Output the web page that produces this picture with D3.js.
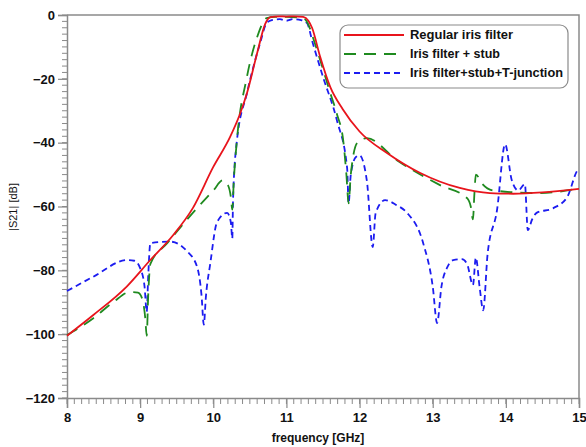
<!DOCTYPE html>
<html>
<head>
<meta charset="utf-8">
<script src="https://cdnjs.cloudflare.com/ajax/libs/d3/7.8.5/d3.min.js"></script>
<style>
  body { margin: 0; background: #fff; }
  svg { display: block; font-family: 'Liberation Sans', Arial, sans-serif; }
</style>
</head>
<body>
<div id="chart"></div>
<script>
(function(){

  // [frequency GHz, |S21| dB]
  var regularIris = [
    [8.0,-100.5],[8.36,-94],[8.82,-85],[9.13,-77],[9.45,-69],[9.72,-60.5],[10.0,-47.6],
    [10.23,-38.2],[10.37,-30.7],[10.46,-24.5],[10.6,-11.9],[10.71,-2.8],[10.78,-0.7],[10.9,-0.4],
    [11.0,-0.5],[11.1,-0.4],[11.23,-0.6],[11.3,-1.8],[11.35,-4],[11.46,-13],[11.6,-22.6],
    [11.77,-29.5],[12.0,-36.5],[12.38,-43.3],[12.83,-49.5],[13.37,-54.2],[13.78,-55.8],
    [14.1,-56],[14.5,-55.6],[15.0,-54.5]
  ];

  var irisStub = [
    [8.0,-100.3],[8.36,-95],[8.63,-90],[8.86,-86.8],[8.97,-87],[9.03,-89],[9.07,-95],
    [9.09,-100.5],[9.11,-88],[9.14,-78],[9.37,-71.5],[9.72,-62],[10.0,-55],[10.13,-51.8],
    [10.2,-53.3],[10.24,-57],[10.26,-61],[10.28,-52],[10.32,-40],[10.46,-19.4],[10.6,-6.9],
    [10.73,-1],[10.85,-0.6],[11.0,-0.6],[11.23,-1],[11.3,-3],[11.36,-6.9],[11.46,-14],
    [11.6,-24.5],[11.69,-31],[11.78,-40],[11.82,-50],[11.85,-59],[11.88,-50],[11.97,-40],
    [12.1,-38.6],[12.51,-45.5],[13.1,-53.3],[13.47,-57.4],[13.52,-60],[13.55,-64],
    [13.57,-56],[13.59,-50],[13.67,-52.7],[13.83,-55],[14.47,-55.8],[15.0,-54.3]
  ];

  var irisStubTee = [
    [8.0,-86.5],[8.36,-82],[8.82,-76.8],[8.92,-77],[9.0,-79.3],[9.06,-85],[9.09,-93],
    [9.11,-82],[9.14,-71.5],[9.41,-71],[9.64,-74],[9.78,-79],[9.84,-88],[9.87,-97],
    [9.9,-88],[9.96,-77.7],[10.05,-65],[10.19,-62],[10.24,-65],[10.26,-70],[10.27,-58],
    [10.32,-40],[10.46,-24.5],[10.64,-8.8],[10.73,-2.5],[10.8,-1.6],[10.91,-1.3],
    [11.0,-1.8],[11.09,-1.3],[11.2,-1.6],[11.28,-2.5],[11.36,-8.8],[11.5,-19.4],
    [11.69,-33],[11.83,-48],[11.85,-59],[11.88,-50],[11.95,-44.5],[12.0,-44],[12.1,-52],
    [12.18,-72.7],[12.22,-62],[12.35,-58],[12.5,-59.5],[12.65,-62],[12.87,-71.5],
    [13.0,-85],[13.06,-96.5],[13.12,-85],[13.2,-79],[13.28,-76.8],[13.4,-76.5],
    [13.47,-78],[13.55,-84.6],[13.59,-76],[13.64,-85],[13.69,-92.5],[13.75,-75],
    [13.88,-61],[13.99,-40.5],[14.08,-51.7],[14.17,-55],[14.26,-53],[14.3,-67.4],
    [14.36,-64],[14.42,-62],[14.65,-60.5],[14.84,-57],[14.97,-49],[15.0,-48]
  ];

  var xTicks = [8, 9, 10, 11, 12, 13, 14, 15],
      yTicks = [0, -20, -40, -60, -80, -100, -120];

  var seriesNames = ['Regular iris filter', 'Iris filter + stub', 'Iris filter+stub+T-junction'];

  var series = [
    {name: seriesNames[0], values: regularIris, color: '#e8141c', dash: null, width: 1.8, textW: 103},
    {name: seriesNames[1], values: irisStub, color: '#1f8a1f', dash: '12,8', width: 1.8, textW: 90},
    {name: seriesNames[2], values: irisStubTee, color: '#1c1cf0', dash: '6,4', width: 1.8, textW: 153}
  ];

  var width = 586,
      height = 447;

  var margin = {top: 15, right: 7, bottom: 49, left: 67},
      chartWidth = width - margin.left - margin.right,
      chartHeight = height - margin.top - margin.bottom;

  var svg = d3.select('#chart').append('svg')
    .attr('width', width)
    .attr('height', height);

  svg.append('rect')
    .attr('width', width)
    .attr('height', height)
    .attr('fill', '#fff');

  var chart = svg.append('g')
    .attr('transform', 'translate(' + margin.left + ',' + margin.top + ')');

  var x = d3.scaleLinear().domain([8, 15]).range([0, chartWidth]),
      y = d3.scaleLinear().domain([-120, 0]).range([chartHeight, 0]);

  var axisColor = '#8a8a8a';

  // minor ticks
  var xMinor = d3.range(80, 151).map(function(d){ return d / 10; }),
      yMinor = d3.range(-60, 1).map(function(d){ return d * 2; });

  chart.append('g')
    .selectAll('line')
    .data(xMinor)
    .enter().append('line')
    .attr('x1', function(d){ return x(d); })
    .attr('x2', function(d){ return x(d); })
    .attr('y1', chartHeight)
    .attr('y2', chartHeight + 6)
    .attr('stroke', axisColor)
    .attr('stroke-width', 1);

  chart.append('g')
    .selectAll('line')
    .data(yMinor)
    .enter().append('line')
    .attr('x1', -5)
    .attr('x2', 0)
    .attr('y1', function(d){ return y(d); })
    .attr('y2', function(d){ return y(d); })
    .attr('stroke', axisColor)
    .attr('stroke-width', 1);

  var xAxis = chart.append('g')
    .attr('transform', 'translate(0,' + chartHeight + ')')
    .call(d3.axisBottom(x).tickValues(xTicks).tickSize(10).tickPadding(5).tickFormat(d3.format('d')));

  var yAxis = chart.append('g')
    .call(d3.axisLeft(y).tickValues(yTicks).tickSize(9).tickPadding(3).tickFormat(d3.format('d')));

  [xAxis, yAxis].forEach(function(a){
    a.select('.domain').attr('stroke', axisColor).attr('stroke-width', 1.5);
    a.selectAll('.tick line').attr('stroke', axisColor).attr('stroke-width', 1.2);
    a.selectAll('.tick text')
      .attr('fill', '#111')
      .attr('font-size', 13)
      .attr('font-weight', 'bold')
      .attr('font-family', "'Liberation Sans', Arial, sans-serif");
  });

  // top and right frame
  chart.append('path')
    .attr('d', 'M0,0H' + chartWidth + 'V' + chartHeight)
    .attr('fill', 'none')
    .attr('stroke', axisColor)
    .attr('stroke-width', 1.5);

  var lineFunction = d3.line()
    .x(function(d){ return x(d[0]); })
    .y(function(d){ return y(d[1]); })
    .curve(d3.curveMonotoneX);

  // draw blue first so red stays on top like the original
  chart.append('g')
    .selectAll('.curve')
    .data(series.slice().reverse())
    .enter().append('path')
    .attr('class', 'curve')
    .attr('d', function(d){ return lineFunction(d.values); })
    .attr('fill', 'none')
    .attr('stroke', function(d){ return d.color; })
    .attr('stroke-width', function(d){ return d.width; })
    .attr('stroke-dasharray', function(d){ return d.dash; });

  // axis titles
  svg.append('text')
    .attr('x', 318)
    .attr('y', 442)
    .attr('text-anchor', 'middle')
    .attr('font-size', 12)
    .attr('font-weight', 'bold')
    .attr('fill', '#111')
    .text('frequency [GHz]');

  svg.append('text')
    .attr('transform', 'translate(17,207) rotate(-90)')
    .attr('text-anchor', 'middle')
    .attr('font-size', 11)
    .attr('fill', '#111')
    .text('|S21| [dB]');

  // legend
  var legend = svg.append('g').attr('transform', 'translate(340,25)');

  legend.append('rect')
    .attr('width', 228)
    .attr('height', 63)
    .attr('rx', 8)
    .attr('fill', '#fff')
    .attr('stroke', '#8a8a8a')
    .attr('stroke-width', 1.2);

  var rows = legend.selectAll('.row')
    .data(series)
    .enter().append('g')
    .attr('class', 'row')
    .attr('transform', function(d, i){ return 'translate(0,' + (10 + i * 19) + ')'; });

  rows.append('line')
    .attr('x1', 4)
    .attr('x2', 64)
    .attr('stroke', function(d){ return d.color; })
    .attr('stroke-width', 2)
    .attr('stroke-dasharray', function(d){ return d.dash; });

  rows.append('text')
    .attr('x', 70)
    .attr('dy', '0.35em')
    .attr('font-size', 12)
    .attr('font-weight', 'bold')
    .attr('fill', '#111')
    .attr('textLength', function(d){ return d.textW; })
    .attr('lengthAdjust', 'spacingAndGlyphs')
    .text(function(d){ return d.name; });

})();
</script>
</body>
</html>
